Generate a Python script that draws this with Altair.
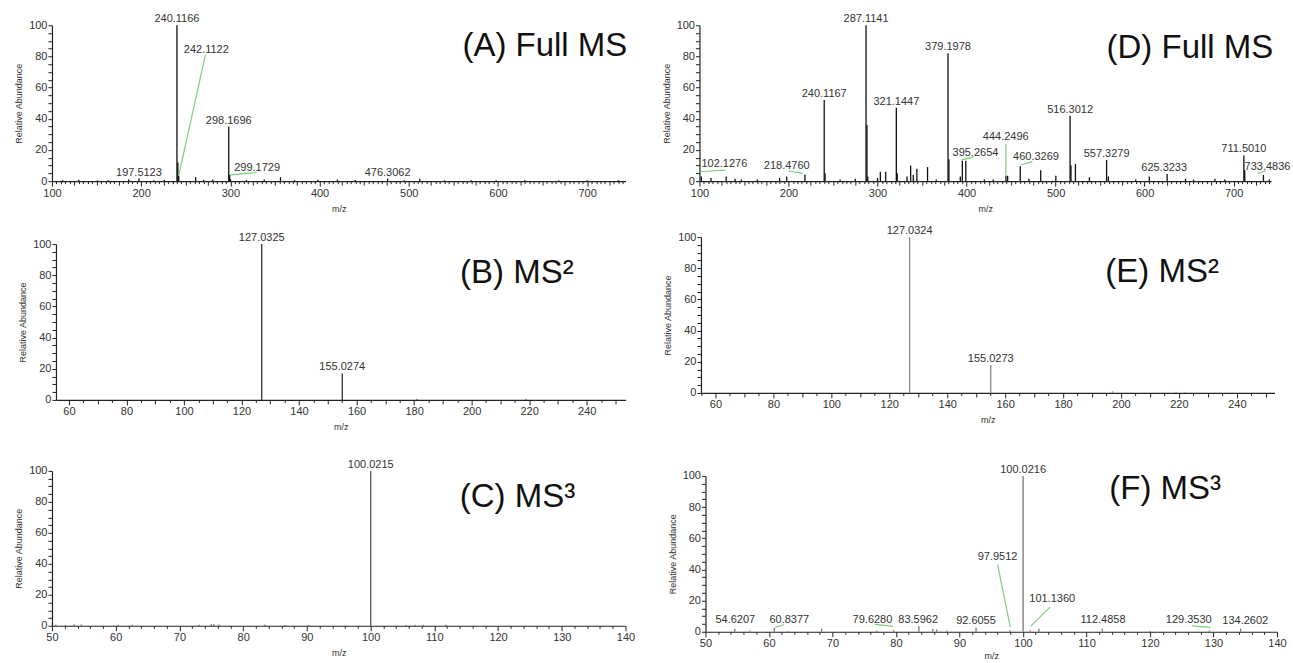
import altair as alt
import pandas as pd

FONT = "Liberation Sans"

# ---------------- Panel A : Full MS ----------------
a_mz = [112, 130, 151, 163, 186, 197.51, 214, 226, 240.12, 241.12, 242.11, 261.1, 270, 280.2,
        298.17, 299.17, 300.2, 318, 338, 356.2, 372, 398, 420, 440, 476.31, 495, 512.3, 540,
        570, 598, 630, 668, 700, 735]
a_int = [0.6, 0.8, 0.5, 0.6, 1.0, 1.6, 0.6, 0.8, 100, 12, 3.5, 2.5, 0.8, 1.0,
         35, 4, 1.2, 0.7, 1.0, 2.5, 0.6, 0.8, 1.0, 0.7, 1.6, 0.6, 1.5, 0.5,
         0.6, 0.5, 0.6, 0.5, 0.5, 0.6]
a_lab = ["240.1166", "242.1122", "298.1696", "299.1729", "197.5123", "476.3062"]
a_lab_x = [240.12, 273, 298.17, 330, 197.5, 476.3]
a_lab_y = [100, 80, 35, 4.5, 1.6, 1.6]
a_seg_x1 = [242.1, 299.5]
a_seg_y1 = [3.5, 4.0]
a_seg_x2 = [272, 329]
a_seg_y2 = [81, 5.5]

# ---------------- Panel B : MS2 ----------------
b_mz = [127.03, 155.03, 181.0, 219.0]
b_int = [100, 17, 0.5, 0.4]
b_lab = ["127.0325", "155.0274"]
b_lab_x = [127.03, 155.03]
b_lab_y = [100, 17]

# ---------------- Panel C : MS3 ----------------
c_mz = [50.6, 52.1, 53.5, 54.6, 60.4, 62.6, 73.1, 75.0, 75.4, 76.2, 83.4, 86.6, 90.3,
        100.02, 105.6, 107.0, 108.3, 111.8]
c_int = [0.6, 0.5, 0.8, 0.8, 0.6, 0.6, 0.6, 1.0, 1.0, 0.8, 0.6, 0.5, 0.5,
         100, 0.5, 0.5, 0.6, 0.6]
c_lab = ["100.0215"]
c_lab_x = [100.02]
c_lab_y = [100]

# ---------------- Panel D : Full MS ----------------
d_mz = [102.13, 113, 130, 140, 147, 165, 190, 198, 218.48, 240.12, 241.12, 258, 275, 287.11,
        288.12, 289.1, 300, 303.2, 309.2, 321.14, 322.15, 333.2, 337.2, 340.2, 344.2, 356.2,
        366, 379.2, 380.2, 393, 395.27, 399.2, 420, 430, 444.25, 446.2, 460.33, 470, 483.3,
        500.3, 516.3, 517.3, 522.3, 538, 557.33, 559.3, 590, 605.3, 625.32, 646, 655, 679,
        690, 711.5, 712.5, 733.48, 740]
d_int = [3, 2, 3, 1.5, 1, 1, 2, 3, 4.3, 52, 5, 1, 1.5, 100,
         36, 3, 2, 6, 6, 47, 5, 3, 10, 4, 8, 9,
         1, 82, 14, 3, 13, 13, 1, 1, 3.5, 3.5, 9.5, 1.5, 7,
         3.5, 42, 10, 11, 2.5, 13.5, 3, 1, 3, 4.5, 1.5, 1, 1.5,
         1, 16.5, 7, 4, 1]
d_lab = ["102.1276", "218.4760", "240.1167", "287.1141", "321.1447", "379.1978", "395.2654",
         "444.2496", "460.3269", "516.3012", "557.3279", "625.3233", "711.5010", "733.4836"]
d_lab_x = [128, 198, 240.12, 287.11, 321.14, 379.2, 410, 444, 478, 516.3, 557.33, 622, 711.5, 738]
d_lab_y = [7, 6, 52, 100, 47, 82, 14.5, 24.5, 11.5, 42, 13.5, 4.5, 16.5, 5]
d_seg_x1 = [100.5, 200, 394, 444.2, 461, 727]
d_seg_y1 = [6, 6.5, 13.5, 3.5, 10.5, 5]
d_seg_x2 = [129, 216, 408, 444.2, 474, 736]
d_seg_y2 = [7, 5, 15.5, 24, 12.5, 6.5]

# ---------------- Panel E : MS2 ----------------
e_mz = [127.03, 155.03, 197.1, 219.0, 222.0]
e_int = [100, 18, 1, 0.8, 0.5]
e_lab = ["127.0324", "155.0273"]
e_lab_x = [127.03, 155.03]
e_lab_y = [100, 18]

# ---------------- Panel F : MS3 ----------------
f_mz = [54.62, 57.0, 60.84, 63.0, 68.3, 77.0, 79.63, 83.60, 85.8, 86.4, 88.0, 92.61, 97.95,
        100.02, 101.14, 102.5, 112.49, 120.0, 129.35, 134.26]
f_int = [2, 0.8, 2.5, 0.5, 2, 0.8, 1, 3.5, 2, 1.5, 0.8, 2.5, 1,
         100, 1, 2, 2, 0.5, 0.8, 2]
f_lab = ["100.0216", "97.9512", "101.1360", "54.6207", "60.8377", "79.6280", "83.5962",
         "92.6055", "112.4858", "129.3530", "134.2602"]
f_lab_x = [100.02, 96.0, 104.6, 54.7, 63.2, 76.3, 83.5, 92.6, 112.6, 126.1, 135.0]
f_lab_y = [100, 44, 17, 3.4, 3.4, 3.4, 3.8, 3.2, 3.4, 3.4, 3.2]
f_seg_x1 = [96.0, 104.3, 61.0, 76.7, 126.6]
f_seg_y1 = [43, 16, 3.0, 4.8, 3.8]
f_seg_x2 = [98.0, 101.2, 62.4, 79.6, 129.5]
f_seg_y2 = [3, 3.5, 4.5, 3.5, 2.8]

# ---------------- Panel titles ----------------
titles = ["(A) Full MS", "(B) MS\u00b2", "(C) MS\u00b3", "(D) Full MS", "(E) MS\u00b2", "(F) MS\u00b3"]
title_x = [745, 196, 114, 744.5, 194.6, 113.6]
title_y = [80, 75, 77, 79, 71, 85]
title_align = ["right", "left", "left", "right", "left", "left"]


def panel(mz, inten, lab, lab_x, lab_y, seg, ti, domain, step, medium, major,
          width, height, stick_color, xrange, yrange, yoffset=0, xtitlepad=6):
    xs = alt.Scale(domain=domain, nice=False, zero=False, range=xrange)
    ys = alt.Scale(domain=[0, 100], nice=False, zero=True, range=yrange)
    start = int(-(-domain[0] // step) * step)
    ticks = list(range(start, int(domain[1]) + 1, step))
    xaxis = alt.Axis(
        values=ticks,
        labelExpr=f"datum.value % {major} === 0 ? datum.label : ''",
        tickSize={"condition": [{"test": f"datum.value % {major} === 0", "value": 5},
                                {"test": f"datum.value % {medium} === 0", "value": 4}],
                  "value": 2.5},
        labelOverlap=False, labelFlush=False, title="m/z", grid=False,
        labelPadding=1, titlePadding=xtitlepad,
    )
    yaxis = alt.Axis(
        values=list(range(0, 101, 5)),
        labelExpr="datum.value % 20 === 0 ? datum.label : ''",
        tickSize=4, labelOverlap=False, labelFlush=False, offset=yoffset,
        title="Relative Abundance", grid=False, labelPadding=1, titlePadding=5,
    )
    peaks = pd.DataFrame({"mz": mz, "ab": inten, "base": [0] * len(mz)})
    sticks = alt.Chart(peaks).mark_rule(color=stick_color, strokeWidth=1.3).encode(
        x=alt.X("mz:Q", scale=xs, axis=xaxis),
        y=alt.Y("ab:Q", scale=ys, axis=yaxis),
        y2="base:Q",
    )
    labs = pd.DataFrame({"t": lab, "x": lab_x, "y": lab_y})
    texts = alt.Chart(labs).mark_text(
        font=FONT, fontSize=11, color="#333333", dy=-3, baseline="alphabetic", align="center"
    ).encode(
        x=alt.X("x:Q", scale=xs, axis=xaxis),
        y=alt.Y("y:Q", scale=ys, axis=yaxis),
        text="t:N",
    )
    i = ti
    tdf = pd.DataFrame({"t": [titles[i]], "x": [title_x[i]], "y": [title_y[i]]})
    ttl = alt.Chart(tdf).mark_text(
        font=FONT, fontSize=33, color="#111111", align=title_align[i], baseline="alphabetic"
    ).encode(
        x=alt.X("x:Q", scale=xs, axis=xaxis),
        y=alt.Y("y:Q", scale=ys, axis=yaxis),
        text="t:N",
    )
    layers = [sticks]
    if seg is not None:
        sdf = pd.DataFrame({"x1": seg[0], "y1": seg[1], "x2": seg[2], "y2": seg[3]})
        lines = alt.Chart(sdf).mark_rule(color="#7ccf7c", strokeWidth=1.2).encode(
            x=alt.X("x1:Q", scale=xs, axis=xaxis),
            y=alt.Y("y1:Q", scale=ys, axis=yaxis),
            x2="x2:Q",
            y2="y2:Q",
        )
        layers.append(lines)
    layers += [texts, ttl]
    return alt.layer(*layers).properties(width=width, height=height)


def spacer(width, height):
    return alt.Chart(pd.DataFrame({"s": [0]})).mark_text(text="").encode(
        x=alt.value(0), y=alt.value(0)
    ).properties(width=width, height=height)


pA = panel(a_mz, a_int, a_lab, a_lab_x, a_lab_y, (a_seg_x1, a_seg_y1, a_seg_x2, a_seg_y2), 0,
           [100, 743], 5, 25, 100, 574, 156, "#111111", [0, 574], [156, 0])
pB = panel(b_mz, b_int, b_lab, b_lab_x, b_lab_y, None, 1,
           [55.5, 253.5], 5, 10, 20, 574, 163, "#333333", [4, 574], [163, 7], yoffset=-4)
pC = panel(c_mz, c_int, c_lab, c_lab_x, c_lab_y, None, 2,
           [50, 140], 2, 10, 10, 574, 155, "#555555", [0, 574], [155, 0])
pD = panel(d_mz, d_int, d_lab, d_lab_x, d_lab_y, (d_seg_x1, d_seg_y1, d_seg_x2, d_seg_y2), 3,
           [100, 742], 5, 25, 100, 578, 156, "#111111", [0, 572], [156, 0])
pE = panel(e_mz, e_int, e_lab, e_lab_x, e_lab_y, None, 4,
           [55, 253], 5, 10, 20, 578, 156, "#888888", [1.5, 575.5], [156, 0], yoffset=-1.5)
pF = panel(f_mz, f_int, f_lab, f_lab_x, f_lab_y, (f_seg_x1, f_seg_y1, f_seg_x2, f_seg_y2), 5,
           [50, 140], 2, 10, 10, 578, 161, "#777777", [6, 578], [161, 5], yoffset=-6, xtitlepad=3)

cells = [pA, pD,
         spacer(574, 56), spacer(578, 56),
         pB, pE,
         spacer(574, 71), spacer(578, 71),
         pC, pF]

chart = alt.concat(
    *cells, columns=2, spacing={"row": 0, "column": 74}, align="none", bounds="flush"
).properties(
    padding={"left": 14, "top": 13, "right": 2, "bottom": 0},
    background="white",
).configure_view(stroke=None).configure_axis(
    labelFont=FONT, titleFont=FONT, labelFontSize=11, titleFontSize=9,
    labelColor="#333333", titleColor="#333333", titleFontWeight="normal",
    domainColor="#222222", tickColor="#222222", domainWidth=1.2, tickWidth=1,
)

chart.save("out.html", embed_options={"renderer": "svg", "actions": False})
